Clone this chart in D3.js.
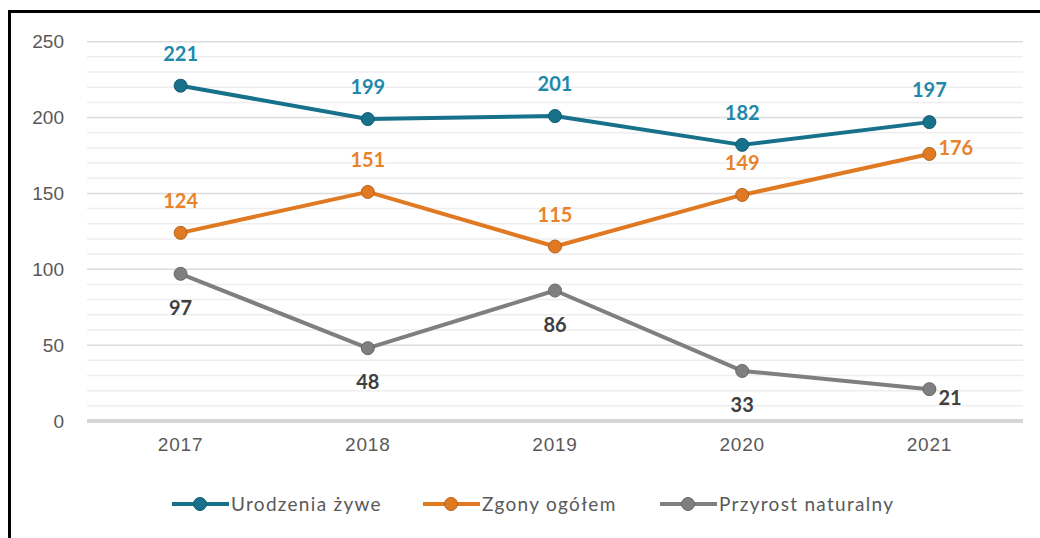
<!DOCTYPE html>
<html>
<head>
<meta charset="utf-8">
<script src="https://cdn.jsdelivr.net/npm/d3@7"></script>
<style>
  html, body { margin: 0; padding: 0; background: #fff; }
  svg { display: block; font-family: Lato, "Open Sans", sans-serif; }
</style>
</head>
<body>
<svg id="chart" width="1040" height="538"></svg>
<script>
// data
var years = ["2017", "2018", "2019", "2020", "2021"];
var urodzenia = [221, 199, 201, 182, 197];
var zgony = [124, 151, 115, 149, 176];
var przyrost = [97, 48, 86, 33, 21];
var yTicks = [0, 50, 100, 150, 200, 250];
var seriesNames = ["Urodzenia żywe", "Zgony ogółem", "Przyrost naturalny"];

var series = [
    { name: seriesNames[0], values: urodzenia, line: "#17718a", label: "#1f88ab",
      pos: ["top", "top", "top", "top", "top"] },
    { name: seriesNames[1], values: zgony, line: "#e07a22", label: "#e8832c",
      pos: ["top", "top", "top", "top", "right"] },
    { name: seriesNames[2], values: przyrost, line: "#7f7f7f", label: "#404040",
      pos: ["bottom", "bottom", "bottom", "bottom", "right"] }
];

var svg = d3.select("#chart");
var margin = { top: 42, left: 87, right: 17, bottom: 117 };
var W = 1040, H = 538;

// frame (only left/top edges are visible in the picture)
svg.append("rect")
    .attr("x", 9.5).attr("y", 11.5)
    .attr("width", 1100).attr("height", 600)
    .attr("fill", "none").attr("stroke", "#000").attr("stroke-width", 3);

var x = d3.scaleBand().domain(years).range([margin.left, W - margin.right]);
var y = d3.scaleLinear().domain([0, 250]).range([421, 41.7]);

// gridlines: minor every 10, major every 50
var grid = svg.append("g");
grid.selectAll("line.minor")
    .data(d3.range(10, 251, 10).filter(function (d) { return d % 50 !== 0; }))
    .join("line")
    .attr("class", "minor")
    .attr("x1", margin.left).attr("x2", W - margin.right)
    .attr("y1", function (d) { return y(d); }).attr("y2", function (d) { return y(d); })
    .attr("stroke", "#eeeeee").attr("stroke-width", 1.5);
grid.selectAll("line.major")
    .data(yTicks.filter(function (d) { return d > 0; }))
    .join("line")
    .attr("class", "major")
    .attr("x1", margin.left).attr("x2", W - margin.right)
    .attr("y1", function (d) { return y(d); }).attr("y2", function (d) { return y(d); })
    .attr("stroke", "#dcdcdc").attr("stroke-width", 1.5);

// zero axis
svg.append("line")
    .attr("x1", margin.left).attr("x2", W - margin.right)
    .attr("y1", y(0)).attr("y2", y(0))
    .attr("stroke", "#d6d6d6").attr("stroke-width", 4);

// y axis labels
var yAxis = d3.axisLeft(y).tickValues(yTicks).tickSize(0).tickPadding(0);
svg.append("g")
    .attr("transform", "translate(64,0)")
    .call(yAxis)
    .call(function (g) { g.select(".domain").remove(); })
    .selectAll("text")
    .attr("font-size", 19).attr("fill", "#595959");

// x axis labels
var xAxis = d3.axisBottom(x).tickSize(0).tickPadding(0);
svg.append("g")
    .attr("transform", "translate(0,437)")
    .call(xAxis)
    .call(function (g) { g.select(".domain").remove(); })
    .selectAll("text")
    .attr("font-size", 19).attr("letter-spacing", 0.8).attr("fill", "#595959");

var cx = function (i) { return x(years[i]) + x.bandwidth() / 2; };
var line = d3.line()
    .x(function (d, i) { return cx(i); })
    .y(function (d) { return y(d); });

series.forEach(function (s) {
    var g = svg.append("g");
    g.append("path")
        .datum(s.values)
        .attr("d", line)
        .attr("fill", "none")
        .attr("stroke", s.line)
        .attr("stroke-width", 4)
        .attr("stroke-linejoin", "round");
    g.selectAll("circle")
        .data(s.values)
        .join("circle")
        .attr("cx", function (d, i) { return cx(i); })
        .attr("cy", function (d) { return y(d); })
        .attr("r", 6.5)
        .attr("fill", s.line)
        .attr("stroke", d3.color(s.line).darker(0.6))
        .attr("stroke-width", 1);
    g.selectAll("text")
        .data(s.values)
        .join("text")
        .attr("x", function (d, i) {
            return s.pos[i] === "right" ? cx(i) + 9 : cx(i);
        })
        .attr("y", function (d, i) {
            if (s.pos[i] === "top") return y(d) - 25;
            if (s.pos[i] === "bottom") return y(d) + 41;
            return y(d) + (s.values === przyrost ? 16 : 1);
        })
        .attr("text-anchor", function (d, i) { return s.pos[i] === "right" ? "start" : "middle"; })
        .attr("font-size", 20)
        .attr("font-weight", "bold")
        .attr("fill", s.label)
        .text(function (d) { return d; });
});

// legend
var legendX = [172, 423, 660];
var legend = svg.append("g");
series.forEach(function (s, i) {
    var g = legend.append("g").attr("transform", "translate(" + legendX[i] + ",504)");
    g.append("line").attr("x1", 0).attr("x2", 57).attr("y1", 0).attr("y2", 0)
        .attr("stroke", s.line).attr("stroke-width", 4);
    g.append("circle").attr("cx", 28).attr("cy", 0).attr("r", 6.5)
        .attr("fill", s.line).attr("stroke", d3.color(s.line).darker(0.6));
    g.append("text").attr("x", 59).attr("y", 7)
        .attr("font-size", 19).attr("letter-spacing", 1.3).attr("fill", "#595959")
        .text(s.name);
});
</script>
</body>
</html>
